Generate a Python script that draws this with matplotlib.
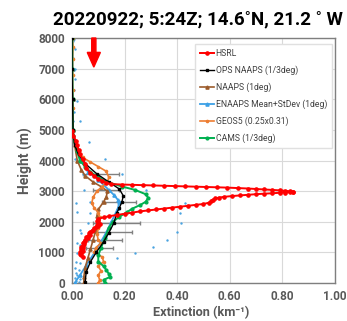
import matplotlib
matplotlib.use("Agg")
import matplotlib.pyplot as plt

plt.rcParams['font.family'] = ['Roboto', 'DejaVu Sans']

title = "20220922; 5:24Z; 14.6˚N, 21.2 ˚ W"
xlabel = "Extinction (km⁻¹)"
ylabel = "Height (m)"
x_ticks = [0.0, 0.2, 0.4, 0.6, 0.8, 1.0]
x_ticklabels = ["0.00", "0.20", "0.40", "0.60", "0.80", "1.00"]
y_ticks = [0, 1000, 2000, 3000, 4000, 5000, 6000, 7000, 8000]

# HSRL lidar profile
hsrl_h = [4950, 4800, 4650, 4500, 4350, 4200, 4050, 3900, 3750, 3600, 3500, 3400,
          3330, 3270, 3230, 3215, 3205, 3195, 3185, 3175, 3165, 3155, 3145, 3135,
          3125, 3115, 3100, 3085, 3070, 3055, 3040, 3025, 3010, 2995, 2985, 2975,
          2965, 2955, 2945, 2930, 2915, 2900, 2880, 2860, 2840, 2815, 2790, 2760,
          2720, 2670, 2620, 2580, 2550, 2520, 2490, 2460, 2430, 2400, 2370, 2340,
          2300, 2260, 2220, 2180, 2140, 2100, 2060, 2020, 1980, 1940, 1900, 1860,
          1820, 1780, 1740, 1700, 1660, 1620, 1580, 1540, 1500, 1460, 1420, 1380,
          1340, 1300, 1260, 1220, 1180, 1140, 1100, 1060, 1020, 980, 940, 900, 860]
hsrl_x = [0.0, 0.005, 0.015, 0.02, 0.025, 0.03, 0.04, 0.05, 0.055, 0.07, 0.085, 0.10,
          0.115, 0.13, 0.15, 0.19, 0.23, 0.27, 0.31, 0.35, 0.39, 0.43, 0.47, 0.51,
          0.55, 0.59, 0.63, 0.67, 0.70, 0.73, 0.76, 0.79, 0.81, 0.83, 0.84, 0.84,
          0.83, 0.81, 0.79, 0.76, 0.73, 0.70, 0.67, 0.64, 0.61, 0.58, 0.56, 0.545,
          0.535, 0.53, 0.52, 0.50, 0.47, 0.44, 0.41, 0.38, 0.35, 0.32, 0.29, 0.26,
          0.23, 0.20, 0.17, 0.14, 0.12, 0.10, 0.10, 0.095, 0.10, 0.105, 0.095, 0.10,
          0.09, 0.085, 0.08, 0.075, 0.07, 0.065, 0.07, 0.06, 0.055, 0.06, 0.05, 0.05,
          0.045, 0.04, 0.045, 0.04, 0.035, 0.04, 0.035, 0.04, 0.03, 0.035, 0.03, 0.035, 0.04]

# OPS NAAPS (1/3 deg)
ops_h = [8000, 7000, 6000, 5000, 4500, 4200, 3900, 3560, 3300, 3070, 2850, 2650,
         2450, 2290, 1970, 1640, 1340, 1010, 690, 360, 30]
ops_x = [0.0, 0.0, 0.002, 0.004, 0.01, 0.025, 0.05, 0.095, 0.14, 0.18, 0.195, 0.19,
         0.18, 0.17, 0.16, 0.14, 0.12, 0.093, 0.07, 0.054, 0.05]

# NAAPS (1 deg)
naaps_h = [8000, 7000, 6000, 5000, 4500, 4000, 3700, 3500, 3300, 3150, 3000, 2800,
           2650, 2400, 2200, 2000, 1700, 1400, 1100, 800, 500, 200, 30]
naaps_x = [0.0, 0.0, 0.002, 0.004, 0.01, 0.02, 0.035, 0.05, 0.08, 0.11, 0.135, 0.13,
           0.12, 0.10, 0.095, 0.1, 0.09, 0.08, 0.07, 0.06, 0.05, 0.045, 0.045]

# ENAAPS mean (1 deg)
enaaps_h = [8000, 7000, 6000, 5000, 4800, 4300, 4000, 3630, 3370, 3040, 2870, 2710,
            2650, 2450, 2000, 1570, 1010, 590, 250, 0]
enaaps_x = [0.002, 0.002, 0.003, 0.004, 0.005, 0.02, 0.035, 0.06, 0.10, 0.14, 0.16,
            0.175, 0.18, 0.175, 0.15, 0.125, 0.087, 0.055, 0.03, 0.01]

# ENAAPS standard deviation bars
enaaps_err_h = [3560, 3040, 2650, 1970, 1670, 1390, 1150]
enaaps_err_c = [0.11, 0.13, 0.18, 0.17, 0.15, 0.125, 0.105]
enaaps_err_sd = [0.07, 0.05, 0.065, 0.09, 0.08, 0.065, 0.05]

# ENAAPS members
members_x = [0.005, 0.012, 0.004, 0.01, 0.012, 0.006, 0.02, 0.008, 0.005, 0.03,
             0.065, 0.008, 0.125, 0.01, 0.04, 0.19, 0.045, 0.28, 0.07, 0.43, 0.015,
             0.07, 0.41, 0.02, 0.06, 0.415, 0.035, 0.40, 0.03, 0.36, 0.02, 0.31,
             0.03, 0.24, 0.02, 0.17, 0.015, 0.03, 0.01, 0.025, 0.015, 0.02, 0.01,
             0.03, 0.015, 0.025]
members_h = [7900, 7650, 7350, 7000, 6650, 6300, 5950, 5600, 5300, 5280,
             4620, 4620, 4060, 4060, 3570, 3560, 3040, 3030, 2650, 2620, 2610,
             2300, 2290, 2320, 1960, 1960, 1640, 1650, 1730, 1390, 1320, 1180,
             1240, 980, 980, 820, 700, 650, 500, 420, 330, 250, 160,
             120, 60, 30]

# GEOS5 (0.25x0.31)
geos_h = [8000, 7700, 7300, 6800, 6300, 5700, 5000, 4600, 4300, 4100, 3950, 3800,
          3650, 3450, 3300, 3150, 3000, 2800, 2600, 2450, 2300, 2150, 2000, 1800,
          1600, 1400, 1300, 1150, 1000, 850, 700, 550, 400, 250, 100, 0]
geos_x = [0.002, 0.004, 0.002, 0.003, 0.002, 0.003, 0.003, 0.01, 0.025, 0.04, 0.07,
          0.10, 0.13, 0.14, 0.135, 0.115, 0.095, 0.08, 0.075, 0.085, 0.10, 0.105,
          0.10, 0.10, 0.095, 0.10, 0.11, 0.09, 0.085, 0.115, 0.12, 0.10, 0.11,
          0.10, 0.105, 0.10]

# CAMS (1/3 deg)
cams_h = [8000, 7000, 6000, 5000, 4800, 4600, 4300, 4000, 3800, 3630, 3450, 3300,
          3150, 3040, 2900, 2780, 2650, 2550, 2430, 2320, 2160, 2000, 1800, 1470,
          1140, 900, 700, 550, 430, 300, 200, 100, 0]
cams_x = [0.001, 0.001, 0.002, 0.003, 0.005, 0.01, 0.02, 0.03, 0.05, 0.07, 0.10,
          0.135, 0.19, 0.24, 0.28, 0.29, 0.28, 0.26, 0.23, 0.21, 0.18, 0.155, 0.14,
          0.125, 0.11, 0.10, 0.10, 0.12, 0.13, 0.14, 0.145, 0.12, 0.125]

arrow_x = 0.083
arrow_top = 8000
arrow_tip = 7050

fig = plt.figure(figsize=(3.47, 3.21), dpi=100)
ax = fig.add_axes([0.2075, 0.1184, 0.7575, 0.7632])

gray_txt = '#595959'
ax.grid(True, color='#d9d9d9', lw=0.8, zorder=0)
ax.set_axisbelow(True)

ax.errorbar(enaaps_err_c, enaaps_err_h, xerr=enaaps_err_sd, fmt='none',
            ecolor='#808080', elinewidth=1.0, capsize=1.5, zorder=2)
ax.scatter(members_x, members_h, s=3, color='#4aa3e0', zorder=2, linewidths=0)
ax.plot(enaaps_x, enaaps_h, color='#3ca0e6', lw=1.3, marker='^', ms=2.3, zorder=3,
        label='ENAAPS Mean+StDev (1deg)')
ax.plot(naaps_x, naaps_h, color='#9c5b2b', lw=1.2, marker='^', ms=2.3, zorder=3,
        label='NAAPS (1deg)')
ax.plot(geos_x, geos_h, color='#ed7d31', lw=1.2, marker='o', ms=1.6, zorder=3,
        label='GEOS5 (0.25x0.31)')
ax.plot(cams_x, cams_h, color='#00b050', lw=1.4, marker='o', ms=2.0, zorder=3,
        label='CAMS (1/3deg)')
ax.plot(ops_x, ops_h, color='black', lw=1.0, marker='s', ms=1.6, zorder=4,
        label='OPS NAAPS (1/3deg)')
ax.plot(hsrl_x, hsrl_h, color='#ff0000', lw=1.4, marker='o', ms=2.3, zorder=5,
        label='HSRL')

ax.arrow(arrow_x, arrow_top, 0, arrow_tip - arrow_top, width=0.016,
         head_width=0.05, head_length=480, length_includes_head=True,
         color='#ff0000', zorder=6, clip_on=False)

ax.set_xlim(0, 1.0)
ax.set_ylim(0, 8000)
ax.set_xticks(x_ticks)
ax.set_xticklabels(x_ticklabels)
ax.set_yticks(y_ticks)
ax.tick_params(length=0, labelsize=8.5, labelcolor=gray_txt)
ax.tick_params(axis='x', pad=5)
ax.tick_params(axis='y', pad=5)
for lab in ax.get_xticklabels() + ax.get_yticklabels():
    lab.set_fontweight('bold')
for sp in ax.spines.values():
    sp.set_color('#7f7f7f')
    sp.set_linewidth(1.0)

ax.set_xlabel(xlabel, fontsize=9.2, fontweight='bold', color=gray_txt, va='bottom')
ax.xaxis.set_label_coords(0.49, -0.148)
ax.set_ylabel(ylabel, fontsize=10, fontweight='bold', color=gray_txt, labelpad=4)
fig.text(0.571, 0.94, title, fontsize=13.5, fontweight='bold', color='black',
         ha='center', va='center')

handles, labels = ax.get_legend_handles_labels()
order = ['HSRL', 'OPS NAAPS (1/3deg)', 'NAAPS (1deg)', 'ENAAPS Mean+StDev (1deg)',
         'GEOS5 (0.25x0.31)', 'CAMS (1/3deg)']
hmap = dict(zip(labels, handles))
leg = ax.legend([hmap[k] for k in order], order, loc='upper right',
                bbox_to_anchor=(0.99, 0.975), fontsize=6.2, frameon=True,
                fancybox=False, edgecolor='#e0e0e0', framealpha=1,
                handlelength=1.6, handletextpad=0.2, labelspacing=0.85,
                borderpad=0.6, borderaxespad=0)
for t in leg.get_texts():
    t.set_color('#404040')

fig.savefig('out.png', dpi=100)
